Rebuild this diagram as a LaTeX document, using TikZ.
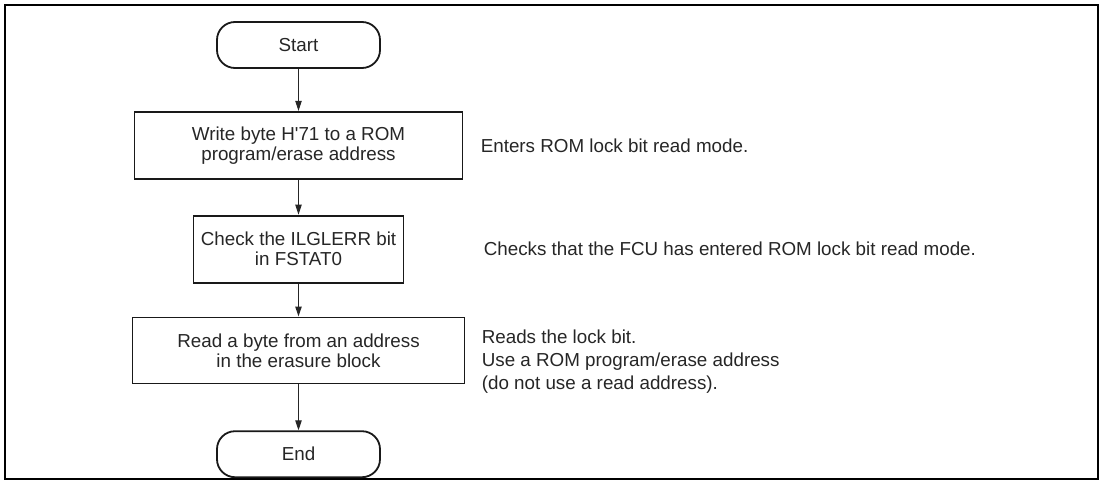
\documentclass[tikz,border=0pt]{standalone}
\usepackage{fontspec}
\setmainfont{Liberation Sans}
\usepackage{tikz}
\usetikzlibrary{arrows.meta,positioning}

\begin{document}
\begin{tikzpicture}[
  term/.style={rectangle,rounded corners=9pt,draw=black!90,line width=0.9pt,
               minimum width=81.5pt,minimum height=23pt,align=center,
               font=\fontsize{9.4}{10}\selectfont,text=black!85},
  proc/.style={rectangle,draw=black!90,line width=0.9pt,minimum height=33.5pt,
               align=center,font=\fontsize{9.4}{10}\selectfont,text=black!85},
  note/.style={inner sep=0pt,align=left,font=\fontsize{9.4}{11.5}\selectfont,
               text=black!85},
  arr/.style={-{Triangle[length=5pt,width=3.2pt]},line width=0.5pt,color=black!85}
]

  \useasboundingbox (-149.25pt,22.5pt) rectangle (402.25pt,-218.5pt);

  % Cadre
  \draw[line width=1pt] (-146.75pt,20pt) rectangle (399.75pt,-217pt);

  % Debut
  \node[term] (start) at (0,0) {Start};

  % Etapes
  \node[proc,minimum width=164pt,below=21pt of start]
    (b1) {Write byte H\textquotesingle 71 to a ROM\\program/erase address};

  \node[proc,minimum width=105pt,below=17.5pt of b1]
    (b2) {Check the ILGLERR bit\\in FSTAT0};

  \node[proc,minimum width=166pt,minimum height=33pt,below=16.5pt of b2]
    (b3) {Read a byte from an address\\in the erasure block};

  % Fin
  \node[term,below=23pt of b3] (end) {End};

  % Commentaires
  \node[note,right=8.5pt of b1] (n1) {Enters ROM lock bit read mode.};
  \node[note,right=39.5pt of b2] (n2)
    {Checks that the FCU has entered ROM lock bit read mode.};
  \node[note,right=8pt of b3,yshift=-5.5pt] (n3)
    {Reads the lock bit.\\Use a ROM program/erase address\\(do not use a read address).};

  % Fleches
  \draw[arr] (start)--(b1);
  \draw[arr] (b1)--(b2);
  \draw[arr] (b2)--(b3);
  \draw[arr] (b3)--(end);

\end{tikzpicture}
\end{document}
